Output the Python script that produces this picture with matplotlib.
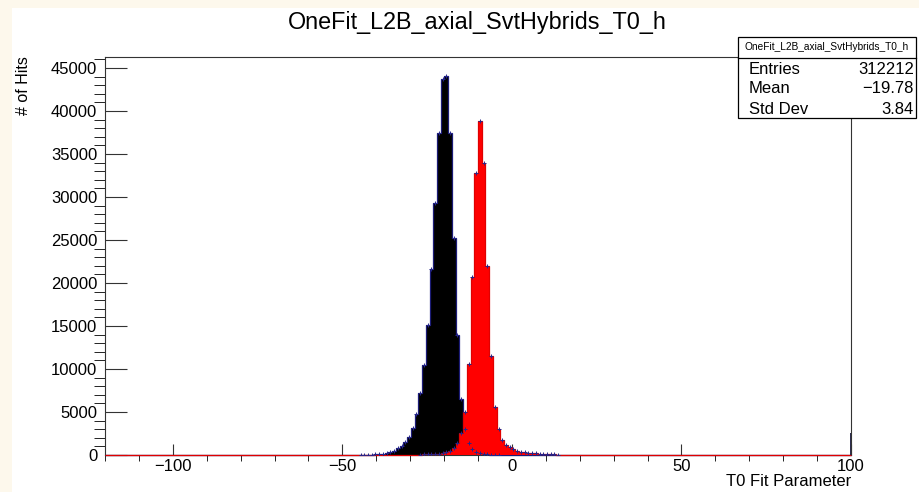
import numpy as np
import matplotlib.pyplot as plt
from matplotlib.patches import Rectangle
from matplotlib.lines import Line2D
from matplotlib.ticker import MultipleLocator

plt.rcParams['font.family'] = ['Liberation Sans', 'DejaVu Sans']

# histogram binning: 200 bins over the T0 range
x_min, x_max, n_bins = -120, 100, 200

# black histogram (the one the stats box refers to), counts from bin 68 on
black_first_bin = 68
black_counts = [17, 22, 30, 45, 65, 95, 140, 200, 310, 500,
                780, 1050, 1550, 2100, 3100, 4770, 7200, 10500, 15100, 21600,
                29300, 37400, 43700, 44070, 37400, 25200, 13950, 6500, 3000,
                1400, 700, 350, 200, 120, 80, 50, 35, 25]

# red histogram, counts from bin 84 on
red_first_bin = 84
red_counts = [50, 65, 80, 100, 130, 170, 220, 300, 450, 800,
              1400, 2600, 5000, 10600, 20700, 32800, 38800, 33900, 22000,
              11500, 5600, 3000, 1750, 1160, 900, 660, 500, 400, 330, 270,
              230, 200, 170, 140, 110, 90, 70, 50]

# content piled up at the upper edge of the range
edge_count = 2600

hist_name = 'OneFit_L2B_axial_SvtHybrids_T0_h'
entries = 312212
mean = -19.78
std_dev = 3.84

edges = np.linspace(x_min, x_max, n_bins + 1)
centres = 0.5 * (edges[:-1] + edges[1:])


def full_hist(first, counts):
    h = np.zeros(n_bins)
    h[first:first + len(counts)] = counts
    return h


black = full_hist(black_first_bin, black_counts)
red = full_hist(red_first_bin, red_counts)

W, H = 920, 492
fig = plt.figure(figsize=(W / 100, H / 100), dpi=100, facecolor='#fdf8ec')
fig.add_artist(Rectangle((12 / W, 0), 1 - 12 / W, 1 - 8 / H, transform=fig.transFigure,
                         facecolor='white', edgecolor='none', zorder=-5))

ax = fig.add_axes([105 / W, 37 / H, 746 / W, 398 / H])

ax.stairs(black, edges, fill=True, color='black', zorder=2)
ax.stairs(black, edges, color='#1c1c78', lw=0.9, zorder=3, clip_on=False)
ax.stairs(red, edges, fill=True, color='#ff0000', zorder=4)
ax.stairs(red, edges, color='#e00000', lw=0.9, zorder=5, clip_on=False)
ax.vlines(x_max, 0, edge_count, color='#1c1c40', lw=1.3, zorder=5)

for h in (black, red):
    m = h > 0
    ax.plot(centres[m], h[m], '+', color='#26268a', ms=3.5, mew=0.7, zorder=6)

ax.set_xlim(x_min, x_max)
ax.set_ylim(0, 1.05 * max(black.max(), red.max()))

ax.xaxis.set_major_locator(MultipleLocator(50))
ax.xaxis.set_minor_locator(MultipleLocator(10))
ax.yaxis.set_major_locator(MultipleLocator(5000))
ax.yaxis.set_minor_locator(MultipleLocator(1000))
ax.tick_params(direction='in', top=False, right=False, colors='#333333',
               labelcolor='black', labelsize=12, width=0.8)
ax.tick_params(axis='y', which='major', length=15.8, pad=5.5)
ax.tick_params(axis='y', which='minor', length=7.9)
ax.tick_params(axis='x', which='major', length=8, pad=3)
ax.tick_params(axis='x', which='minor', length=4)
for s in ax.spines.values():
    s.set_color('#333333')
    s.set_linewidth(0.8)

fig.text(477 / W, 1 - 22 / H, hist_name, ha='center', va='center', fontsize=16.8)
fig.text(24 / W, 1 - 56 / H, '# of Hits', rotation=90, ha='center', va='top', fontsize=11.5)
fig.text(851 / W, 1 - 482 / H, 'T0 Fit Parameter', ha='right', va='center', fontsize=12)

# statistics box
bx0, bx1, by0, by1, bdiv = 738, 916, 37, 118, 57.5
fig.add_artist(Rectangle((bx0 / W, 1 - by1 / H), (bx1 - bx0) / W, (by1 - by0) / H,
                         transform=fig.transFigure, facecolor='white',
                         edgecolor='black', lw=0.9, zorder=10))
fig.add_artist(Line2D([bx0 / W, bx1 / W], [1 - bdiv / H, 1 - bdiv / H],
                      transform=fig.transFigure, color='black', lw=0.9, zorder=11))
fig.text((bx0 + bx1) / 2 / W, 1 - 47.5 / H, hist_name, ha='center', va='center',
         fontsize=7.3, zorder=12)
rows = [('Entries', f'{entries}'), ('Mean', f'{mean:.2f}'.replace('-', '\u2212')),
        ('Std Dev', f'{std_dev:.2f}')]
for (name, val), py in zip(rows, [69, 88.5, 109]):
    fig.text(749 / W, 1 - py / H, name, ha='left', va='center', fontsize=12, zorder=12)
    fig.text(914 / W, 1 - py / H, val, ha='right', va='center', fontsize=12, zorder=12)

fig.savefig('out.png', dpi=100, facecolor=fig.get_facecolor())
